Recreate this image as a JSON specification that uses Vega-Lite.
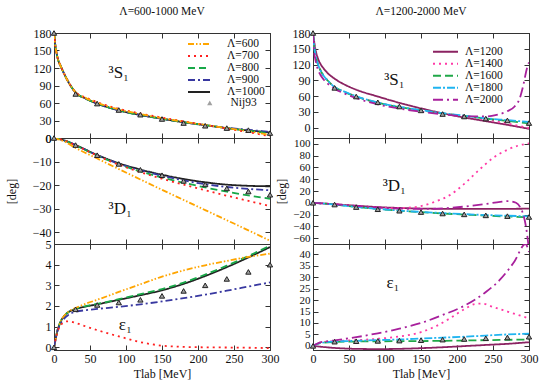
{
"$schema":"https://vega.github.io/schema/vega-lite/v6.json",
"background":"white",
"padding":{"left":4,"top":5,"right":0,"bottom":0},
"bounds":"flush",
"columns":2,
"spacing":{"row":0,"column":43},
"datasets":{
"L":[
{"p":"S","m":"1000","T":0,"v":180},{"p":"S","m":"1000","T":1,"v":168},{"p":"S","m":"1000","T":2,"v":157},{"p":"S","m":"1000","T":4,"v":143},{"p":"S","m":"1000","T":6,"v":133},{"p":"S","m":"1000","T":9,"v":124},{"p":"S","m":"1000","T":13,"v":113},{"p":"S","m":"1000","T":20,"v":96},{"p":"S","m":"1000","T":30,"v":78},{"p":"S","m":"1000","T":45,"v":67},{"p":"S","m":"1000","T":60,"v":59},{"p":"S","m":"1000","T":90,"v":47.5},{"p":"S","m":"1000","T":120,"v":39.5},{"p":"S","m":"1000","T":150,"v":33},{"p":"S","m":"1000","T":180,"v":27},{"p":"S","m":"1000","T":210,"v":22},{"p":"S","m":"1000","T":240,"v":17},{"p":"S","m":"1000","T":270,"v":13},{"p":"S","m":"1000","T":300,"v":9.5},
{"p":"S","m":"900","T":0,"v":180},{"p":"S","m":"900","T":1,"v":168},{"p":"S","m":"900","T":2,"v":157},{"p":"S","m":"900","T":4,"v":143},{"p":"S","m":"900","T":6,"v":133},{"p":"S","m":"900","T":9,"v":124},{"p":"S","m":"900","T":13,"v":113},{"p":"S","m":"900","T":20,"v":96},{"p":"S","m":"900","T":30,"v":78},{"p":"S","m":"900","T":45,"v":67},{"p":"S","m":"900","T":60,"v":59},{"p":"S","m":"900","T":90,"v":47.5},{"p":"S","m":"900","T":120,"v":39.5},{"p":"S","m":"900","T":150,"v":33},{"p":"S","m":"900","T":180,"v":27},{"p":"S","m":"900","T":210,"v":22},{"p":"S","m":"900","T":240,"v":17.5},{"p":"S","m":"900","T":270,"v":14},{"p":"S","m":"900","T":300,"v":10.5},
{"p":"S","m":"800","T":0,"v":180},{"p":"S","m":"800","T":1,"v":168},{"p":"S","m":"800","T":2,"v":157},{"p":"S","m":"800","T":4,"v":143},{"p":"S","m":"800","T":6,"v":133},{"p":"S","m":"800","T":9,"v":124},{"p":"S","m":"800","T":13,"v":113},{"p":"S","m":"800","T":20,"v":96},{"p":"S","m":"800","T":30,"v":78},{"p":"S","m":"800","T":45,"v":67},{"p":"S","m":"800","T":60,"v":59},{"p":"S","m":"800","T":90,"v":47.5},{"p":"S","m":"800","T":120,"v":39.5},{"p":"S","m":"800","T":150,"v":33},{"p":"S","m":"800","T":180,"v":27},{"p":"S","m":"800","T":210,"v":22},{"p":"S","m":"800","T":240,"v":17},{"p":"S","m":"800","T":270,"v":12.5},{"p":"S","m":"800","T":300,"v":8},
{"p":"S","m":"700","T":0,"v":180},{"p":"S","m":"700","T":1,"v":168},{"p":"S","m":"700","T":2,"v":157},{"p":"S","m":"700","T":4,"v":143},{"p":"S","m":"700","T":6,"v":133},{"p":"S","m":"700","T":9,"v":124},{"p":"S","m":"700","T":13,"v":113},{"p":"S","m":"700","T":20,"v":96},{"p":"S","m":"700","T":30,"v":78.5},{"p":"S","m":"700","T":45,"v":69},{"p":"S","m":"700","T":60,"v":61.5},{"p":"S","m":"700","T":90,"v":50},{"p":"S","m":"700","T":120,"v":42},{"p":"S","m":"700","T":150,"v":35},{"p":"S","m":"700","T":180,"v":28.5},{"p":"S","m":"700","T":210,"v":22.5},{"p":"S","m":"700","T":240,"v":16},{"p":"S","m":"700","T":270,"v":10},{"p":"S","m":"700","T":300,"v":3},
{"p":"S","m":"600","T":0,"v":180},{"p":"S","m":"600","T":1,"v":168},{"p":"S","m":"600","T":2,"v":157},{"p":"S","m":"600","T":4,"v":143},{"p":"S","m":"600","T":6,"v":133},{"p":"S","m":"600","T":9,"v":124},{"p":"S","m":"600","T":13,"v":113},{"p":"S","m":"600","T":20,"v":96},{"p":"S","m":"600","T":30,"v":78.5},{"p":"S","m":"600","T":45,"v":68},{"p":"S","m":"600","T":60,"v":60.5},{"p":"S","m":"600","T":90,"v":49},{"p":"S","m":"600","T":120,"v":41},{"p":"S","m":"600","T":150,"v":34},{"p":"S","m":"600","T":180,"v":28},{"p":"S","m":"600","T":210,"v":22.5},{"p":"S","m":"600","T":240,"v":17},{"p":"S","m":"600","T":270,"v":11.5},{"p":"S","m":"600","T":300,"v":5},
{"p":"D","m":"1000","T":0,"v":0},{"p":"D","m":"1000","T":15,"v":-1.1},{"p":"D","m":"1000","T":30,"v":-3},{"p":"D","m":"1000","T":60,"v":-7.2},{"p":"D","m":"1000","T":90,"v":-10.7},{"p":"D","m":"1000","T":120,"v":-13.4},{"p":"D","m":"1000","T":150,"v":-15.6},{"p":"D","m":"1000","T":180,"v":-17.4},{"p":"D","m":"1000","T":210,"v":-18.8},{"p":"D","m":"1000","T":240,"v":-19.8},{"p":"D","m":"1000","T":270,"v":-20.3},{"p":"D","m":"1000","T":300,"v":-20.5},
{"p":"D","m":"900","T":0,"v":0},{"p":"D","m":"900","T":15,"v":-1.1},{"p":"D","m":"900","T":30,"v":-3},{"p":"D","m":"900","T":60,"v":-7.3},{"p":"D","m":"900","T":90,"v":-10.9},{"p":"D","m":"900","T":120,"v":-13.7},{"p":"D","m":"900","T":150,"v":-16},{"p":"D","m":"900","T":180,"v":-18},{"p":"D","m":"900","T":210,"v":-19.6},{"p":"D","m":"900","T":240,"v":-20.8},{"p":"D","m":"900","T":270,"v":-21.6},{"p":"D","m":"900","T":300,"v":-22.2},
{"p":"D","m":"800","T":0,"v":0},{"p":"D","m":"800","T":15,"v":-1.1},{"p":"D","m":"800","T":30,"v":-3.1},{"p":"D","m":"800","T":60,"v":-7.5},{"p":"D","m":"800","T":90,"v":-11.2},{"p":"D","m":"800","T":120,"v":-14.2},{"p":"D","m":"800","T":150,"v":-16.8},{"p":"D","m":"800","T":180,"v":-19},{"p":"D","m":"800","T":210,"v":-21},{"p":"D","m":"800","T":240,"v":-22.8},{"p":"D","m":"800","T":270,"v":-24.4},{"p":"D","m":"800","T":300,"v":-25.8},
{"p":"D","m":"700","T":0,"v":0},{"p":"D","m":"700","T":15,"v":-1.1},{"p":"D","m":"700","T":30,"v":-3.1},{"p":"D","m":"700","T":60,"v":-7.5},{"p":"D","m":"700","T":90,"v":-11.3},{"p":"D","m":"700","T":120,"v":-14.5},{"p":"D","m":"700","T":150,"v":-17.3},{"p":"D","m":"700","T":180,"v":-19.8},{"p":"D","m":"700","T":210,"v":-22.2},{"p":"D","m":"700","T":240,"v":-24.5},{"p":"D","m":"700","T":270,"v":-26.7},{"p":"D","m":"700","T":300,"v":-28.9},
{"p":"D","m":"600","T":0,"v":0},{"p":"D","m":"600","T":15,"v":-1.6},{"p":"D","m":"600","T":30,"v":-4.2},{"p":"D","m":"600","T":60,"v":-8.7},{"p":"D","m":"600","T":90,"v":-13.2},{"p":"D","m":"600","T":120,"v":-17.6},{"p":"D","m":"600","T":150,"v":-22},{"p":"D","m":"600","T":180,"v":-26.3},{"p":"D","m":"600","T":210,"v":-30.6},{"p":"D","m":"600","T":240,"v":-34.9},{"p":"D","m":"600","T":270,"v":-39.2},{"p":"D","m":"600","T":300,"v":-43.6},
{"p":"E","m":"1000","T":0,"v":0},{"p":"E","m":"1000","T":2,"v":0.35},{"p":"E","m":"1000","T":4,"v":0.7},{"p":"E","m":"1000","T":7,"v":1.05},{"p":"E","m":"1000","T":10,"v":1.3},{"p":"E","m":"1000","T":15,"v":1.55},{"p":"E","m":"1000","T":20,"v":1.7},{"p":"E","m":"1000","T":30,"v":1.85},{"p":"E","m":"1000","T":45,"v":1.98},{"p":"E","m":"1000","T":60,"v":2.08},{"p":"E","m":"1000","T":90,"v":2.3},{"p":"E","m":"1000","T":120,"v":2.52},{"p":"E","m":"1000","T":150,"v":2.76},{"p":"E","m":"1000","T":180,"v":3.07},{"p":"E","m":"1000","T":210,"v":3.45},{"p":"E","m":"1000","T":240,"v":3.88},{"p":"E","m":"1000","T":270,"v":4.35},{"p":"E","m":"1000","T":300,"v":4.85},
{"p":"E","m":"800","T":0,"v":0},{"p":"E","m":"800","T":2,"v":0.35},{"p":"E","m":"800","T":4,"v":0.7},{"p":"E","m":"800","T":7,"v":1.05},{"p":"E","m":"800","T":10,"v":1.3},{"p":"E","m":"800","T":15,"v":1.55},{"p":"E","m":"800","T":20,"v":1.7},{"p":"E","m":"800","T":30,"v":1.86},{"p":"E","m":"800","T":45,"v":2.0},{"p":"E","m":"800","T":60,"v":2.1},{"p":"E","m":"800","T":90,"v":2.33},{"p":"E","m":"800","T":120,"v":2.57},{"p":"E","m":"800","T":150,"v":2.82},{"p":"E","m":"800","T":180,"v":3.13},{"p":"E","m":"800","T":210,"v":3.52},{"p":"E","m":"800","T":240,"v":3.95},{"p":"E","m":"800","T":270,"v":4.42},{"p":"E","m":"800","T":300,"v":4.92},
{"p":"E","m":"600","T":0,"v":0},{"p":"E","m":"600","T":2,"v":0.35},{"p":"E","m":"600","T":4,"v":0.7},{"p":"E","m":"600","T":7,"v":1.05},{"p":"E","m":"600","T":10,"v":1.3},{"p":"E","m":"600","T":15,"v":1.56},{"p":"E","m":"600","T":20,"v":1.72},{"p":"E","m":"600","T":30,"v":1.9},{"p":"E","m":"600","T":45,"v":2.12},{"p":"E","m":"600","T":60,"v":2.3},{"p":"E","m":"600","T":90,"v":2.68},{"p":"E","m":"600","T":120,"v":3.05},{"p":"E","m":"600","T":150,"v":3.42},{"p":"E","m":"600","T":180,"v":3.72},{"p":"E","m":"600","T":210,"v":3.97},{"p":"E","m":"600","T":240,"v":4.18},{"p":"E","m":"600","T":270,"v":4.38},{"p":"E","m":"600","T":300,"v":4.53},
{"p":"E","m":"900","T":0,"v":0},{"p":"E","m":"900","T":2,"v":0.35},{"p":"E","m":"900","T":4,"v":0.7},{"p":"E","m":"900","T":7,"v":1.0},{"p":"E","m":"900","T":10,"v":1.2},{"p":"E","m":"900","T":15,"v":1.43},{"p":"E","m":"900","T":20,"v":1.57},{"p":"E","m":"900","T":30,"v":1.72},{"p":"E","m":"900","T":45,"v":1.8},{"p":"E","m":"900","T":60,"v":1.86},{"p":"E","m":"900","T":90,"v":1.96},{"p":"E","m":"900","T":120,"v":2.08},{"p":"E","m":"900","T":150,"v":2.22},{"p":"E","m":"900","T":180,"v":2.38},{"p":"E","m":"900","T":210,"v":2.55},{"p":"E","m":"900","T":240,"v":2.74},{"p":"E","m":"900","T":270,"v":2.94},{"p":"E","m":"900","T":300,"v":3.14},
{"p":"E","m":"700","T":0,"v":0},{"p":"E","m":"700","T":3,"v":0.5},{"p":"E","m":"700","T":6,"v":0.85},{"p":"E","m":"700","T":10,"v":1.1},{"p":"E","m":"700","T":15,"v":1.24},{"p":"E","m":"700","T":20,"v":1.26},{"p":"E","m":"700","T":30,"v":1.18},{"p":"E","m":"700","T":45,"v":1.0},{"p":"E","m":"700","T":60,"v":0.83},{"p":"E","m":"700","T":90,"v":0.53},{"p":"E","m":"700","T":120,"v":0.25},{"p":"E","m":"700","T":150,"v":0.08},{"p":"E","m":"700","T":180,"v":0.02},{"p":"E","m":"700","T":210,"v":0.0},{"p":"E","m":"700","T":240,"v":-0.01},{"p":"E","m":"700","T":270,"v":-0.02},{"p":"E","m":"700","T":300,"v":-0.04}
],
"R":[
{"p":"S","m":"1200","T":0,"v":180},{"p":"S","m":"1200","T":1,"v":170},{"p":"S","m":"1200","T":3,"v":152},{"p":"S","m":"1200","T":6,"v":135},{"p":"S","m":"1200","T":10,"v":122},{"p":"S","m":"1200","T":15,"v":112},{"p":"S","m":"1200","T":20,"v":104},{"p":"S","m":"1200","T":30,"v":93},{"p":"S","m":"1200","T":45,"v":81},{"p":"S","m":"1200","T":60,"v":72},{"p":"S","m":"1200","T":90,"v":59},{"p":"S","m":"1200","T":120,"v":47},{"p":"S","m":"1200","T":150,"v":36.5},{"p":"S","m":"1200","T":180,"v":27},{"p":"S","m":"1200","T":210,"v":19},{"p":"S","m":"1200","T":240,"v":12},{"p":"S","m":"1200","T":270,"v":5},{"p":"S","m":"1200","T":300,"v":-2.5},
{"p":"S","m":"1400","T":0,"v":180},{"p":"S","m":"1400","T":1,"v":162},{"p":"S","m":"1400","T":2,"v":150},{"p":"S","m":"1400","T":4,"v":135},{"p":"S","m":"1400","T":7,"v":120},{"p":"S","m":"1400","T":10,"v":110},{"p":"S","m":"1400","T":15,"v":98},{"p":"S","m":"1400","T":20,"v":90},{"p":"S","m":"1400","T":30,"v":77},{"p":"S","m":"1400","T":45,"v":67},{"p":"S","m":"1400","T":60,"v":59},{"p":"S","m":"1400","T":90,"v":47},{"p":"S","m":"1400","T":120,"v":39},{"p":"S","m":"1400","T":150,"v":32.5},{"p":"S","m":"1400","T":180,"v":27},{"p":"S","m":"1400","T":210,"v":21},{"p":"S","m":"1400","T":240,"v":15},{"p":"S","m":"1400","T":270,"v":7.5},{"p":"S","m":"1400","T":300,"v":-1},
{"p":"S","m":"1600","T":0,"v":180},{"p":"S","m":"1600","T":1,"v":162},{"p":"S","m":"1600","T":2,"v":150},{"p":"S","m":"1600","T":4,"v":135},{"p":"S","m":"1600","T":7,"v":120},{"p":"S","m":"1600","T":10,"v":110},{"p":"S","m":"1600","T":15,"v":98},{"p":"S","m":"1600","T":20,"v":90},{"p":"S","m":"1600","T":30,"v":77},{"p":"S","m":"1600","T":45,"v":67},{"p":"S","m":"1600","T":60,"v":59},{"p":"S","m":"1600","T":90,"v":47},{"p":"S","m":"1600","T":120,"v":39},{"p":"S","m":"1600","T":150,"v":32.5},{"p":"S","m":"1600","T":180,"v":27},{"p":"S","m":"1600","T":210,"v":22},{"p":"S","m":"1600","T":240,"v":17},{"p":"S","m":"1600","T":270,"v":12.5},{"p":"S","m":"1600","T":300,"v":8},
{"p":"S","m":"1800","T":0,"v":180},{"p":"S","m":"1800","T":1,"v":162},{"p":"S","m":"1800","T":2,"v":150},{"p":"S","m":"1800","T":4,"v":135},{"p":"S","m":"1800","T":7,"v":120},{"p":"S","m":"1800","T":10,"v":110},{"p":"S","m":"1800","T":15,"v":98},{"p":"S","m":"1800","T":20,"v":90},{"p":"S","m":"1800","T":30,"v":77},{"p":"S","m":"1800","T":45,"v":67.5},{"p":"S","m":"1800","T":60,"v":59.5},{"p":"S","m":"1800","T":90,"v":47.5},{"p":"S","m":"1800","T":120,"v":39.5},{"p":"S","m":"1800","T":150,"v":33},{"p":"S","m":"1800","T":180,"v":27.5},{"p":"S","m":"1800","T":210,"v":22.5},{"p":"S","m":"1800","T":240,"v":17.5},{"p":"S","m":"1800","T":270,"v":14},{"p":"S","m":"1800","T":300,"v":10.5},
{"p":"S","m":"2000","T":0,"v":180},{"p":"S","m":"2000","T":1,"v":155},{"p":"S","m":"2000","T":2,"v":140},{"p":"S","m":"2000","T":4,"v":125},{"p":"S","m":"2000","T":7,"v":110},{"p":"S","m":"2000","T":10,"v":101},{"p":"S","m":"2000","T":15,"v":91},{"p":"S","m":"2000","T":20,"v":84},{"p":"S","m":"2000","T":30,"v":74},{"p":"S","m":"2000","T":45,"v":64},{"p":"S","m":"2000","T":60,"v":56},{"p":"S","m":"2000","T":90,"v":44},{"p":"S","m":"2000","T":120,"v":36},{"p":"S","m":"2000","T":150,"v":30},{"p":"S","m":"2000","T":180,"v":25},{"p":"S","m":"2000","T":210,"v":21.5},{"p":"S","m":"2000","T":240,"v":21},{"p":"S","m":"2000","T":255,"v":24},{"p":"S","m":"2000","T":270,"v":31},{"p":"S","m":"2000","T":280,"v":40},{"p":"S","m":"2000","T":287,"v":55},{"p":"S","m":"2000","T":292,"v":80},{"p":"S","m":"2000","T":297,"v":112},{"p":"S","m":"2000","T":300,"v":124},
{"p":"D","m":"1200","T":0,"v":0},{"p":"D","m":"1200","T":30,"v":-2.5},{"p":"D","m":"1200","T":60,"v":-5},{"p":"D","m":"1200","T":90,"v":-7.3},{"p":"D","m":"1200","T":120,"v":-8.8},{"p":"D","m":"1200","T":150,"v":-9.8},{"p":"D","m":"1200","T":180,"v":-10.3},{"p":"D","m":"1200","T":210,"v":-10.5},{"p":"D","m":"1200","T":240,"v":-10.5},{"p":"D","m":"1200","T":270,"v":-10.3},{"p":"D","m":"1200","T":300,"v":-10},
{"p":"D","m":"1400","T":0,"v":0},{"p":"D","m":"1400","T":30,"v":-2.5},{"p":"D","m":"1400","T":60,"v":-5.5},{"p":"D","m":"1400","T":90,"v":-8},{"p":"D","m":"1400","T":110,"v":-9},{"p":"D","m":"1400","T":130,"v":-8.5},{"p":"D","m":"1400","T":150,"v":-5.5},{"p":"D","m":"1400","T":170,"v":2},{"p":"D","m":"1400","T":190,"v":13},{"p":"D","m":"1400","T":210,"v":32},{"p":"D","m":"1400","T":230,"v":55},{"p":"D","m":"1400","T":250,"v":76},{"p":"D","m":"1400","T":270,"v":90},{"p":"D","m":"1400","T":285,"v":97},{"p":"D","m":"1400","T":300,"v":101},
{"p":"D","m":"1600","T":0,"v":0},{"p":"D","m":"1600","T":30,"v":-3},{"p":"D","m":"1600","T":60,"v":-7},{"p":"D","m":"1600","T":90,"v":-10.5},{"p":"D","m":"1600","T":120,"v":-13.5},{"p":"D","m":"1600","T":150,"v":-16},{"p":"D","m":"1600","T":180,"v":-18.2},{"p":"D","m":"1600","T":210,"v":-20},{"p":"D","m":"1600","T":240,"v":-21.8},{"p":"D","m":"1600","T":270,"v":-23.3},{"p":"D","m":"1600","T":300,"v":-24.5},
{"p":"D","m":"1800","T":0,"v":0},{"p":"D","m":"1800","T":30,"v":-3},{"p":"D","m":"1800","T":60,"v":-7},{"p":"D","m":"1800","T":90,"v":-10.3},{"p":"D","m":"1800","T":120,"v":-13.2},{"p":"D","m":"1800","T":150,"v":-15.5},{"p":"D","m":"1800","T":180,"v":-17.5},{"p":"D","m":"1800","T":210,"v":-19.2},{"p":"D","m":"1800","T":240,"v":-20.8},{"p":"D","m":"1800","T":270,"v":-22},{"p":"D","m":"1800","T":300,"v":-23},
{"p":"D","m":"2000","T":0,"v":0},{"p":"D","m":"2000","T":30,"v":-2.5},{"p":"D","m":"2000","T":60,"v":-5.3},{"p":"D","m":"2000","T":90,"v":-8},{"p":"D","m":"2000","T":120,"v":-9.8},{"p":"D","m":"2000","T":150,"v":-10.5},{"p":"D","m":"2000","T":180,"v":-9.5},{"p":"D","m":"2000","T":210,"v":-6.5},{"p":"D","m":"2000","T":240,"v":-2},{"p":"D","m":"2000","T":260,"v":1.5},{"p":"D","m":"2000","T":272,"v":2.8},{"p":"D","m":"2000","T":282,"v":0},{"p":"D","m":"2000","T":288,"v":-8},{"p":"D","m":"2000","T":292,"v":-20},{"p":"D","m":"2000","T":296,"v":-42},{"p":"D","m":"2000","T":300,"v":-80},
{"p":"E","m":"1200","T":0,"v":0},{"p":"E","m":"1200","T":15,"v":-0.5},{"p":"E","m":"1200","T":30,"v":-0.9},{"p":"E","m":"1200","T":60,"v":-1.3},{"p":"E","m":"1200","T":90,"v":-1.4},{"p":"E","m":"1200","T":120,"v":-1.3},{"p":"E","m":"1200","T":150,"v":-1.0},{"p":"E","m":"1200","T":180,"v":-0.6},{"p":"E","m":"1200","T":210,"v":-0.1},{"p":"E","m":"1200","T":240,"v":0.4},{"p":"E","m":"1200","T":270,"v":0.9},{"p":"E","m":"1200","T":300,"v":1.6},
{"p":"E","m":"1400","T":0,"v":0},{"p":"E","m":"1400","T":10,"v":1.4},{"p":"E","m":"1400","T":30,"v":2.1},{"p":"E","m":"1400","T":60,"v":2.5},{"p":"E","m":"1400","T":90,"v":3.1},{"p":"E","m":"1400","T":120,"v":4.1},{"p":"E","m":"1400","T":150,"v":6},{"p":"E","m":"1400","T":170,"v":8.5},{"p":"E","m":"1400","T":190,"v":12},{"p":"E","m":"1400","T":210,"v":16},{"p":"E","m":"1400","T":225,"v":18.3},{"p":"E","m":"1400","T":235,"v":18.5},{"p":"E","m":"1400","T":250,"v":17},{"p":"E","m":"1400","T":270,"v":15},{"p":"E","m":"1400","T":285,"v":13.5},{"p":"E","m":"1400","T":300,"v":12},
{"p":"E","m":"1600","T":0,"v":0},{"p":"E","m":"1600","T":10,"v":1.2},{"p":"E","m":"1600","T":30,"v":1.7},{"p":"E","m":"1600","T":60,"v":1.9},{"p":"E","m":"1600","T":90,"v":2.0},{"p":"E","m":"1600","T":120,"v":2.05},{"p":"E","m":"1600","T":150,"v":2.1},{"p":"E","m":"1600","T":180,"v":2.2},{"p":"E","m":"1600","T":210,"v":2.35},{"p":"E","m":"1600","T":240,"v":2.5},{"p":"E","m":"1600","T":270,"v":2.65},{"p":"E","m":"1600","T":300,"v":2.8},
{"p":"E","m":"1800","T":0,"v":0},{"p":"E","m":"1800","T":10,"v":1.3},{"p":"E","m":"1800","T":30,"v":1.9},{"p":"E","m":"1800","T":60,"v":2.2},{"p":"E","m":"1800","T":90,"v":2.5},{"p":"E","m":"1800","T":120,"v":2.8},{"p":"E","m":"1800","T":150,"v":3.2},{"p":"E","m":"1800","T":180,"v":3.6},{"p":"E","m":"1800","T":210,"v":4.0},{"p":"E","m":"1800","T":240,"v":4.5},{"p":"E","m":"1800","T":270,"v":5.0},{"p":"E","m":"1800","T":300,"v":5.3},
{"p":"E","m":"2000","T":0,"v":0},{"p":"E","m":"2000","T":10,"v":1.5},{"p":"E","m":"2000","T":30,"v":2.4},{"p":"E","m":"2000","T":60,"v":3.8},{"p":"E","m":"2000","T":90,"v":5.5},{"p":"E","m":"2000","T":120,"v":7.5},{"p":"E","m":"2000","T":150,"v":10},{"p":"E","m":"2000","T":180,"v":13.5},{"p":"E","m":"2000","T":210,"v":17.5},{"p":"E","m":"2000","T":240,"v":23.5},{"p":"E","m":"2000","T":260,"v":29},{"p":"E","m":"2000","T":280,"v":37},{"p":"E","m":"2000","T":295,"v":44.5},{"p":"E","m":"2000","T":300,"v":41}
],
"N":[
{"p":"S","T":0,"v":180},{"p":"S","T":30,"v":75.5},{"p":"S","T":60,"v":59},{"p":"S","T":90,"v":48},{"p":"S","T":120,"v":40},{"p":"S","T":150,"v":32.6},{"p":"S","T":180,"v":25.7},{"p":"S","T":210,"v":21},{"p":"S","T":240,"v":17},{"p":"S","T":270,"v":13.5},{"p":"S","T":300,"v":8.5},
{"p":"D","T":0,"v":0},{"p":"D","T":30,"v":-3},{"p":"D","T":60,"v":-7.3},{"p":"D","T":90,"v":-11},{"p":"D","T":120,"v":-13.5},{"p":"D","T":150,"v":-15.8},{"p":"D","T":180,"v":-18.2},{"p":"D","T":210,"v":-19.7},{"p":"D","T":240,"v":-21.4},{"p":"D","T":270,"v":-22.7},{"p":"D","T":300,"v":-24.1},
{"p":"E","T":0,"v":0},{"p":"E","T":30,"v":1.84},{"p":"E","T":60,"v":2.05},{"p":"E","T":90,"v":2.17},{"p":"E","T":120,"v":2.3},{"p":"E","T":150,"v":2.49},{"p":"E","T":180,"v":2.73},{"p":"E","T":210,"v":3.0},{"p":"E","T":240,"v":3.31},{"p":"E","T":270,"v":3.65},{"p":"E","T":300,"v":4.0}
],
"Lab":[
{"k":"LS","T":90,"v":112,"t":"³S₁"},{"k":"LD","T":92,"v":-30.3,"t":"³D₁"},{"k":"LE","T":99,"v":1.08,"t":"ε₁"},
{"k":"RS","T":113,"v":91,"t":"³S₁"},{"k":"RD","T":113,"v":28,"t":"³D₁"},{"k":"RE","T":111,"v":27.3,"t":"ε₁"}
]
},
"concat":[
{"width":216,"height":105,
 "title":{"text":"Λ=600-1000 MeV"},
 "layer":[
  {"data":{"name":"L"},"transform":[{"filter":"datum.p==='S'"}],
   "mark":{"type":"line","clip":true,"strokeWidth":1.8,"interpolate":"monotone"},
   "encoding":{
    "x":{"field":"T","type":"quantitative","scale":{"domain":[0,300],"nice":false},"axis":{"values":[0,50,100,150,200,250,300],"labels":false,"title":null}},
    "y":{"field":"v","type":"quantitative","scale":{"domain":[0,180],"nice":false,"zero":false},"axis":{"values":[0,30,60,90,120,150,180],"title":null}},
    "color":{"field":"m","type":"nominal","scale":{"domain":["600","700","800","900","1000"],"range":["#ffa500","#ff2020","#18a848","#3838a0","#222222"]},"legend":{"orient":"none","legendX":133,"legendY":5,"title":null,"symbolSize":484,"labelOffset":16,"labelExpr":"'Λ=' + datum.label","clipHeight":11.8,"rowPadding":-1.5}},
    "strokeDash":{"field":"m","type":"nominal","scale":{"domain":["600","700","800","900","1000"],"range":[[6,2,1.5,2,1.5,2],[2,4],[7,4],[7,3,2,3],[1,0]]},"legend":{"orient":"none","legendX":133,"legendY":5,"title":null,"symbolSize":484,"labelOffset":16,"labelExpr":"'Λ=' + datum.label","clipHeight":11.8,"rowPadding":-1.5}}
   }},
  {"data":{"name":"N"},"transform":[{"filter":"datum.p==='S'"}],
   "mark":{"type":"point","shape":"triangle-up","filled":true,"size":28,"fill":"#a0a0a0","stroke":"#222222","strokeWidth":1,"opacity":1},
   "encoding":{
    "x":{"field":"T","type":"quantitative","scale":{"domain":[0,300],"nice":false},"axis":{"orient":"top","values":[0,50,100,150,200,250,300],"labels":false,"title":null}},
    "y":{"field":"v","type":"quantitative","scale":{"domain":[0,180],"nice":false,"zero":false},"axis":{"orient":"right","values":[0,30,60,90,120,150,180],"labels":false,"title":null}},
    "shape":{"datum":"Nij93","type":"nominal","scale":{"domain":["Nij93"],"range":["triangle-up"]},"legend":{"orient":"none","legendX":150,"legendY":64,"title":null,"symbolSize":28,"symbolFillColor":"#a0a0a0","symbolStrokeColor":"#222222","symbolStrokeWidth":1,"labelOffset":15,"clipHeight":11.8}}
   }},
  {"data":{"name":"Lab"},"transform":[{"filter":"datum.k==='LS'"}],
   "mark":{"type":"text","fontSize":17,"font":"Liberation Serif, DejaVu Serif, serif","color":"#111111"},
   "encoding":{"x":{"field":"T","type":"quantitative","axis":null},"y":{"field":"v","type":"quantitative","axis":null},"text":{"field":"t"}}}
 ],
 "resolve":{"axis":{"x":"independent","y":"independent"}}
},
{"width":216,"height":105,
 "title":{"text":"Λ=1200-2000 MeV"},
 "layer":[
  {"data":{"name":"R"},"transform":[{"filter":"datum.p==='S'"}],
   "mark":{"type":"line","clip":true,"strokeWidth":1.8,"interpolate":"monotone"},
   "encoding":{
    "x":{"field":"T","type":"quantitative","scale":{"domain":[0,300],"nice":false},"axis":{"values":[0,50,100,150,200,250,300],"labels":false,"title":null}},
    "y":{"field":"v","type":"quantitative","scale":{"domain":[-20,180],"nice":false,"zero":false},"axis":{"values":[0,30,60,90,120,150,180],"title":null}},
    "color":{"field":"m","type":"nominal","scale":{"domain":["1200","1400","1600","1800","2000"],"range":["#8b2362","#ff3aa6","#20a848","#20b4f0","#a8209c"]},"legend":{"orient":"none","legendX":119,"legendY":13,"title":null,"symbolSize":625,"labelOffset":6,"labelExpr":"'Λ=' + datum.label","clipHeight":11.3,"rowPadding":-1.7}},
    "strokeDash":{"field":"m","type":"nominal","scale":{"domain":["1200","1400","1600","1800","2000"],"range":[[1,0],[2,4],[8,4],[8,2,2,2],[10,4,2,4]]},"legend":{"orient":"none","legendX":119,"legendY":13,"title":null,"symbolSize":625,"labelOffset":6,"labelExpr":"'Λ=' + datum.label","clipHeight":11.3,"rowPadding":-1.7}}
   }},
  {"data":{"name":"N"},"transform":[{"filter":"datum.p==='S'"}],
   "mark":{"type":"point","shape":"triangle-up","filled":true,"size":28,"fill":"#a0a0a0","stroke":"#222222","strokeWidth":1,"opacity":1},
   "encoding":{
    "x":{"field":"T","type":"quantitative","scale":{"domain":[0,300],"nice":false},"axis":{"orient":"top","values":[0,50,100,150,200,250,300],"labels":false,"title":null}},
    "y":{"field":"v","type":"quantitative","scale":{"domain":[-20,180],"nice":false,"zero":false},"axis":{"orient":"right","values":[0,30,60,90,120,150,180],"labels":false,"title":null}}
   }},
  {"data":{"name":"Lab"},"transform":[{"filter":"datum.k==='RS'"}],
   "mark":{"type":"text","fontSize":17,"font":"Liberation Serif, DejaVu Serif, serif","color":"#111111"},
   "encoding":{"x":{"field":"T","type":"quantitative","axis":null},"y":{"field":"v","type":"quantitative","axis":null},"text":{"field":"t"}}}
 ],
 "resolve":{"axis":{"x":"independent","y":"independent"}}
},
{"width":216,"height":106,
 "layer":[
  {"data":{"name":"L"},"transform":[{"filter":"datum.p==='D'"}],
   "mark":{"type":"line","clip":true,"strokeWidth":1.8,"interpolate":"monotone"},
   "encoding":{
    "x":{"field":"T","type":"quantitative","scale":{"domain":[0,300],"nice":false},"axis":{"values":[0,50,100,150,200,250,300],"labels":false,"title":null}},
    "y":{"field":"v","type":"quantitative","scale":{"domain":[-45,0],"nice":false,"zero":false},"axis":{"values":[-40,-30,-20,-10,0],"title":"[deg]","titlePadding":14}},
    "color":{"field":"m","type":"nominal","scale":{"domain":["600","700","800","900","1000"],"range":["#ffa500","#ff2020","#18a848","#3838a0","#222222"]},"legend":null},
    "strokeDash":{"field":"m","type":"nominal","scale":{"domain":["600","700","800","900","1000"],"range":[[6,2,1.5,2,1.5,2],[2,4],[7,4],[7,3,2,3],[1,0]]},"legend":null}
   }},
  {"data":{"name":"N"},"transform":[{"filter":"datum.p==='D'"}],
   "mark":{"type":"point","shape":"triangle-up","filled":true,"size":28,"fill":"#a0a0a0","stroke":"#222222","strokeWidth":1,"opacity":1},
   "encoding":{
    "x":{"field":"T","type":"quantitative","scale":{"domain":[0,300],"nice":false},"axis":{"orient":"top","values":[0,50,100,150,200,250,300],"labels":false,"title":null}},
    "y":{"field":"v","type":"quantitative","scale":{"domain":[-45,0],"nice":false,"zero":false},"axis":{"orient":"right","values":[-40,-30,-20,-10,0],"labels":false,"title":null}}
   }},
  {"data":{"name":"Lab"},"transform":[{"filter":"datum.k==='LD'"}],
   "mark":{"type":"text","fontSize":17,"font":"Liberation Serif, DejaVu Serif, serif","color":"#111111"},
   "encoding":{"x":{"field":"T","type":"quantitative","axis":null},"y":{"field":"v","type":"quantitative","axis":null},"text":{"field":"t"}}}
 ],
 "resolve":{"axis":{"x":"independent","y":"independent"}}
},
{"width":216,"height":106,
 "layer":[
  {"data":{"name":"R"},"transform":[{"filter":"datum.p==='D'"}],
   "mark":{"type":"line","clip":true,"strokeWidth":1.8,"interpolate":"monotone"},
   "encoding":{
    "x":{"field":"T","type":"quantitative","scale":{"domain":[0,300],"nice":false},"axis":{"values":[0,50,100,150,200,250,300],"labels":false,"title":null}},
    "y":{"field":"v","type":"quantitative","scale":{"domain":[-70,110],"nice":false,"zero":false},"axis":{"values":[-60,-40,-20,0,20,40,60,80,100],"title":"[deg]","titlePadding":4,"labelFontSize":11}},
    "color":{"field":"m","type":"nominal","scale":{"domain":["1200","1400","1600","1800","2000"],"range":["#8b2362","#ff3aa6","#20a848","#20b4f0","#a8209c"]},"legend":null},
    "strokeDash":{"field":"m","type":"nominal","scale":{"domain":["1200","1400","1600","1800","2000"],"range":[[1,0],[2,4],[8,4],[8,2,2,2],[10,4,2,4]]},"legend":null}
   }},
  {"data":{"name":"N"},"transform":[{"filter":"datum.p==='D'"}],
   "mark":{"type":"point","shape":"triangle-up","filled":true,"size":28,"fill":"#a0a0a0","stroke":"#222222","strokeWidth":1,"opacity":1},
   "encoding":{
    "x":{"field":"T","type":"quantitative","scale":{"domain":[0,300],"nice":false},"axis":{"orient":"top","values":[0,50,100,150,200,250,300],"labels":false,"title":null}},
    "y":{"field":"v","type":"quantitative","scale":{"domain":[-70,110],"nice":false,"zero":false},"axis":{"orient":"right","values":[-60,-40,-20,0,20,40,60,80,100],"labels":false,"title":null}}
   }},
  {"data":{"name":"Lab"},"transform":[{"filter":"datum.k==='RD'"}],
   "mark":{"type":"text","fontSize":17,"font":"Liberation Serif, DejaVu Serif, serif","color":"#111111"},
   "encoding":{"x":{"field":"T","type":"quantitative","axis":null},"y":{"field":"v","type":"quantitative","axis":null},"text":{"field":"t"}}}
 ],
 "resolve":{"axis":{"x":"independent","y":"independent"}}
},
{"width":216,"height":106,
 "layer":[
  {"data":{"name":"L"},"transform":[{"filter":"datum.p==='E'"}],
   "mark":{"type":"line","clip":true,"strokeWidth":1.8,"interpolate":"monotone"},
   "encoding":{
    "x":{"field":"T","type":"quantitative","scale":{"domain":[0,300],"nice":false},"axis":{"values":[0,50,100,150,200,250,300],"title":"Tlab [MeV]"}},
    "y":{"field":"v","type":"quantitative","scale":{"domain":[-0.13,5],"nice":false,"zero":false},"axis":{"values":[0,1,2,3,4,5],"title":null}},
    "color":{"field":"m","type":"nominal","scale":{"domain":["600","700","800","900","1000"],"range":["#ffa500","#ff2020","#18a848","#3838a0","#222222"]},"legend":null},
    "strokeDash":{"field":"m","type":"nominal","scale":{"domain":["600","700","800","900","1000"],"range":[[6,2,1.5,2,1.5,2],[2,4],[7,4],[7,3,2,3],[1,0]]},"legend":null}
   }},
  {"data":{"name":"N"},"transform":[{"filter":"datum.p==='E'"}],
   "mark":{"type":"point","shape":"triangle-up","filled":true,"size":28,"fill":"#a0a0a0","stroke":"#222222","strokeWidth":1,"opacity":1},
   "encoding":{
    "x":{"field":"T","type":"quantitative","scale":{"domain":[0,300],"nice":false},"axis":{"orient":"top","values":[0,50,100,150,200,250,300],"labels":false,"title":null}},
    "y":{"field":"v","type":"quantitative","scale":{"domain":[-0.13,5],"nice":false,"zero":false},"axis":{"orient":"right","values":[0,1,2,3,4,5],"labels":false,"title":null}}
   }},
  {"data":{"name":"Lab"},"transform":[{"filter":"datum.k==='LE'"}],
   "mark":{"type":"text","fontSize":17,"font":"Liberation Serif, DejaVu Serif, serif","color":"#111111"},
   "encoding":{"x":{"field":"T","type":"quantitative","axis":null},"y":{"field":"v","type":"quantitative","axis":null},"text":{"field":"t"}}}
 ],
 "resolve":{"axis":{"x":"independent","y":"independent"}}
},
{"width":216,"height":106,
 "layer":[
  {"data":{"name":"R"},"transform":[{"filter":"datum.p==='E'"}],
   "mark":{"type":"line","clip":true,"strokeWidth":1.8,"interpolate":"monotone"},
   "encoding":{
    "x":{"field":"T","type":"quantitative","scale":{"domain":[0,300],"nice":false},"axis":{"values":[0,50,100,150,200,250,300],"title":"Tlab [MeV]"}},
    "y":{"field":"v","type":"quantitative","scale":{"domain":[-1.8,44.5],"nice":false,"zero":false},"axis":{"values":[0,5,10,15,20,25,30,35,40],"title":null,"labelFontSize":11}},
    "color":{"field":"m","type":"nominal","scale":{"domain":["1200","1400","1600","1800","2000"],"range":["#8b2362","#ff3aa6","#20a848","#20b4f0","#a8209c"]},"legend":null},
    "strokeDash":{"field":"m","type":"nominal","scale":{"domain":["1200","1400","1600","1800","2000"],"range":[[1,0],[2,4],[8,4],[8,2,2,2],[10,4,2,4]]},"legend":null}
   }},
  {"data":{"name":"N"},"transform":[{"filter":"datum.p==='E'"}],
   "mark":{"type":"point","shape":"triangle-up","filled":true,"size":28,"fill":"#a0a0a0","stroke":"#222222","strokeWidth":1,"opacity":1},
   "encoding":{
    "x":{"field":"T","type":"quantitative","scale":{"domain":[0,300],"nice":false},"axis":{"orient":"top","values":[0,50,100,150,200,250,300],"labels":false,"title":null}},
    "y":{"field":"v","type":"quantitative","scale":{"domain":[-1.8,44.5],"nice":false,"zero":false},"axis":{"orient":"right","values":[0,5,10,15,20,25,30,35,40],"labels":false,"title":null}}
   }},
  {"data":{"name":"Lab"},"transform":[{"filter":"datum.k==='RE'"}],
   "mark":{"type":"text","fontSize":17,"font":"Liberation Serif, DejaVu Serif, serif","color":"#111111"},
   "encoding":{"x":{"field":"T","type":"quantitative","axis":null},"y":{"field":"v","type":"quantitative","axis":null},"text":{"field":"t"}}}
 ],
 "resolve":{"axis":{"x":"independent","y":"independent"}}
}
],
"resolve":{"scale":{"color":"independent","strokeDash":"independent","shape":"independent"},"legend":{"color":"independent","strokeDash":"independent","shape":"independent"}},
"config":{
 "font":"Liberation Serif, DejaVu Serif, serif",
 "view":{"stroke":"#333333","strokeWidth":1},
 "axis":{"labelFont":"Liberation Serif, DejaVu Serif, serif","labelFontSize":12,"labelColor":"#111111","titleFont":"Liberation Serif, DejaVu Serif, serif","titleFontSize":12,"titleFontWeight":"normal","titleColor":"#111111","tickColor":"#333333","domainColor":"#333333","tickSize":-5,"labelPadding":8,"grid":false,"labelFlush":false,"labelOverlap":false,"labelBound":false},
 "legend":{"labelFont":"Liberation Serif, DejaVu Serif, serif","labelFontSize":11.5,"labelColor":"#111111","symbolStrokeWidth":2,"symbolType":"stroke","padding":0},
 "title":{"font":"Liberation Serif, DejaVu Serif, serif","fontSize":11.5,"fontWeight":"normal","color":"#111111","offset":10}
}
}
